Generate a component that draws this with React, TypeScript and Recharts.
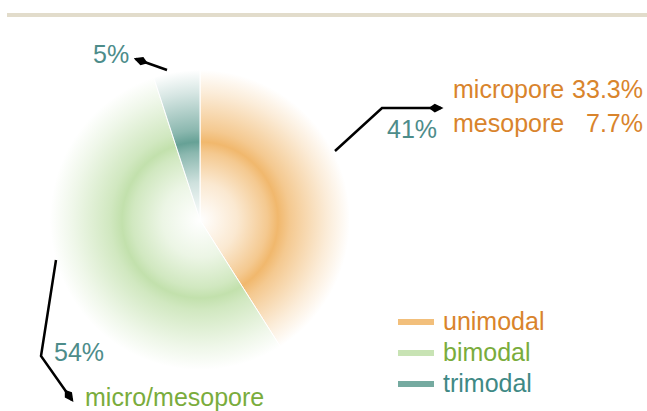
import { Cell, Legend, Pie, PieChart } from "recharts";

const categories = ["unimodal", "bimodal", "trimodal"];
const shares = [41, 54, 5];
const subLabels = [["micropore", "33.3%"], ["mesopore", "7.7%"]];
const bimodalNote = "micro/mesopore";

const fills = ["#f0b465", "#bfdfa8", "#5e9c90"];
const textColors = ["#d9842c", "#7aac3c", "#3f8985"];
const pctColor = "#4d8c8a";

const data = categories.map((name, i) => ({ name, value: shares[i] }));

const CX = 200;
const CY = 220;
const R = 150;
const FONT = "'Liberation Sans', Arial, sans-serif";

function Ring({ id, color }: { id: string; color: string }) {
  return (
    <radialGradient id={id} gradientUnits="userSpaceOnUse" cx={CX} cy={CY} r={R}>
      <stop offset="0" stopColor={color} stopOpacity={0} />
      <stop offset="0.25" stopColor={color} stopOpacity={0.3} />
      <stop offset="0.45" stopColor={color} stopOpacity={0.72} />
      <stop offset="0.52" stopColor={color} stopOpacity={0.95} />
      <stop offset="0.6" stopColor={color} stopOpacity={0.72} />
      <stop offset="0.85" stopColor={color} stopOpacity={0.25} />
      <stop offset="1" stopColor={color} stopOpacity={0} />
    </radialGradient>
  );
}

// callouts, placed relative to the pie centre
function renderLabel(props: any) {
  const { cx, cy, index, percent } = props;
  const pct = `${Math.round(percent * 100)}%`;
  const p = (pts: number[][]) => pts.map(([x, y]) => `${cx + x},${cy + y}`).join(" ");
  const line = { fill: "none", stroke: "#000", strokeWidth: 2.5, markerEnd: "url(#tip)" };
  if (index === 0) {
    return (
      <g fontFamily={FONT} fontSize={25}>
        <polyline points={p([[135, -69], [182, -112], [241, -112]])} {...line} />
        <text x={cx + 187} y={cy - 82} fill={pctColor}>{pct}</text>
        <text x={cx + 253} y={cy - 122} fill={textColors[0]}>{subLabels[0][0]}</text>
        <text x={cx + 443} y={cy - 122} fill={textColors[0]} textAnchor="end">{subLabels[0][1]}</text>
        <text x={cx + 253} y={cy - 88} fill={textColors[0]}>{subLabels[1][0]}</text>
        <text x={cx + 443} y={cy - 88} fill={textColors[0]} textAnchor="end">{subLabels[1][1]}</text>
      </g>
    );
  }
  if (index === 1) {
    return (
      <g fontFamily={FONT} fontSize={25}>
        <polyline points={p([[-144, 40], [-159, 136], [-128, 180]])} {...line} />
        <text x={cx - 146} y={cy + 141} fill={pctColor}>{pct}</text>
        <text x={cx - 115} y={cy + 186} fill={textColors[1]}>{bimodalNote}</text>
      </g>
    );
  }
  return (
    <g fontFamily={FONT} fontSize={25}>
      <polyline points={p([[-33, -150], [-64, -161]])} {...line} />
      <text x={cx - 107} y={cy - 157} fill={pctColor}>{pct}</text>
    </g>
  );
}

function LegendBox() {
  return (
    <div style={{ fontFamily: FONT, fontSize: 25 }}>
      {categories.map((name, i) => (
        <div key={name} style={{ display: "flex", alignItems: "center", height: 31 }}>
          <span style={{ width: 36, height: 6, background: fills[i], opacity: 0.85, marginRight: 9, filter: "blur(0.6px)" }} />
          <span style={{ color: textColors[i], lineHeight: "25px" }}>{name}</span>
        </div>
      ))}
    </div>
  );
}

export default function App() {
  return (
    <div style={{ position: "absolute", left: 0, top: 0, width: 647, height: 411, background: "#fff", overflow: "hidden" }}>
      <div style={{ position: "absolute", left: 7, top: 13, width: 640, height: 4, background: "#e2dccb" }} />
      <PieChart width={647} height={411} margin={{ top: 0, right: 0, bottom: 0, left: 0 }}>
        <defs>
          <Ring id="g0" color={fills[0]} />
          <Ring id="g1" color={fills[1]} />
          <Ring id="g2" color={fills[2]} />
          <marker id="tip" viewBox="0 0 12 8" refX="10" refY="4" markerWidth="6" markerHeight="4.5" orient="auto" markerUnits="strokeWidth">
            <path d="M0,4 L5,0.5 L12,4 L5,7.5 Z" fill="#000" />
          </marker>
        </defs>
        <Pie
          data={data}
          dataKey="value"
          nameKey="name"
          cx={CX}
          cy={CY}
          outerRadius={R}
          startAngle={90}
          endAngle={-270}
          stroke="#fff"
          strokeWidth={1}
          label={renderLabel}
          labelLine={false}
          isAnimationActive={false}
        >
          {data.map((d, i) => (
            <Cell key={d.name} fill={`url(#g${i})`} />
          ))}
        </Pie>
        <Legend
          layout="vertical"
          verticalAlign="middle"
          align="center"
          wrapperStyle={{ left: 398, top: 306, width: 200 }}
          content={<LegendBox />}
        />
      </PieChart>
    </div>
  );
}
